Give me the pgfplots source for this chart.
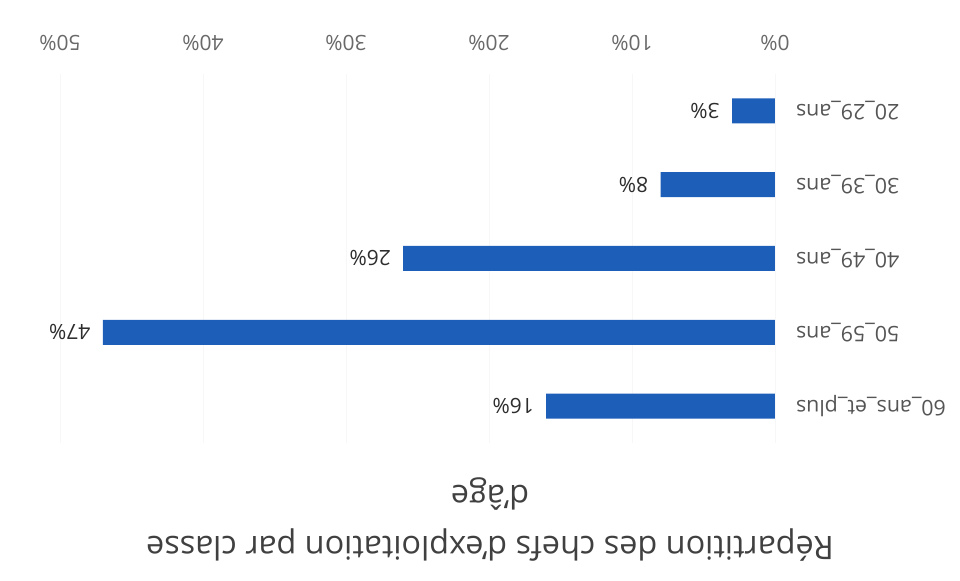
\documentclass[border=0pt]{standalone}
\usepackage{fontspec}
\setmainfont{Open Sans}
\usepackage{pgfplots}
\pgfplotsset{compat=1.18}
\definecolor{barblue}{RGB}{28,94,184}
\definecolor{ticktext}{RGB}{105,105,105}
\definecolor{cattext}{RGB}{85,85,85}
\definecolor{titletext}{RGB}{64,64,64}
\definecolor{valtext}{RGB}{45,45,45}
\begin{document}
\begin{tikzpicture}
\path[use as bounding box] (-30pt,-69pt) rectangle (450pt,221.5pt);
\begin{axis}[
  at={(0,0)}, anchor=south west,
  scale only axis, width=357.5pt, height=184.5pt,
  xbar, bar width=12.5pt,
  x dir=reverse, y dir=reverse,
  xmin=0, xmax=50, ymin=-0.5, ymax=4.5,
  xtick={0,10,20,30,40,50},
  xticklabel={\pgfmathprintnumber{\tick}\%},
  xticklabel pos=upper,
  xticklabel shift=8pt,
  xticklabel style={rotate=180, anchor=north, font=\fontsize{10.5}{12}\selectfont, text=ticktext},
  ytick={0,1,2,3,4},
  yticklabels={20\_29\_ans, 30\_39\_ans, 40\_49\_ans, 50\_59\_ans, 60\_ans\_et\_plus},
  yticklabel pos=right,
  yticklabel shift=7pt,
  yticklabel style={rotate=180, anchor=east, font=\fontsize{10.7}{12}\selectfont, text=cattext},
  axis line style={draw=none},
  major tick length=0pt,
  xmajorgrids, grid style={gray!6},
  point meta=x,
  nodes near coords={\pgfmathprintnumber{\pgfplotspointmeta}\%},
  every node near coord/.style={rotate=180, anchor=west, inner xsep=6pt, font=\fontsize{10.5}{12}\selectfont, text=valtext},
  /pgf/number format/assume math mode=true,
  clip=false,
]
\addplot[draw=none, fill=barblue] coordinates {(3,0) (8,1) (26,2) (47,3) (16,4)};
\end{axis}
\node[rotate=180, align=center, text=titletext, font=\fontsize{16.2}{25.5}\selectfont] at (215pt,-38.5pt) {Répartition des chefs d'exploitation par classe\\d'âge};
\end{tikzpicture}
\end{document}
